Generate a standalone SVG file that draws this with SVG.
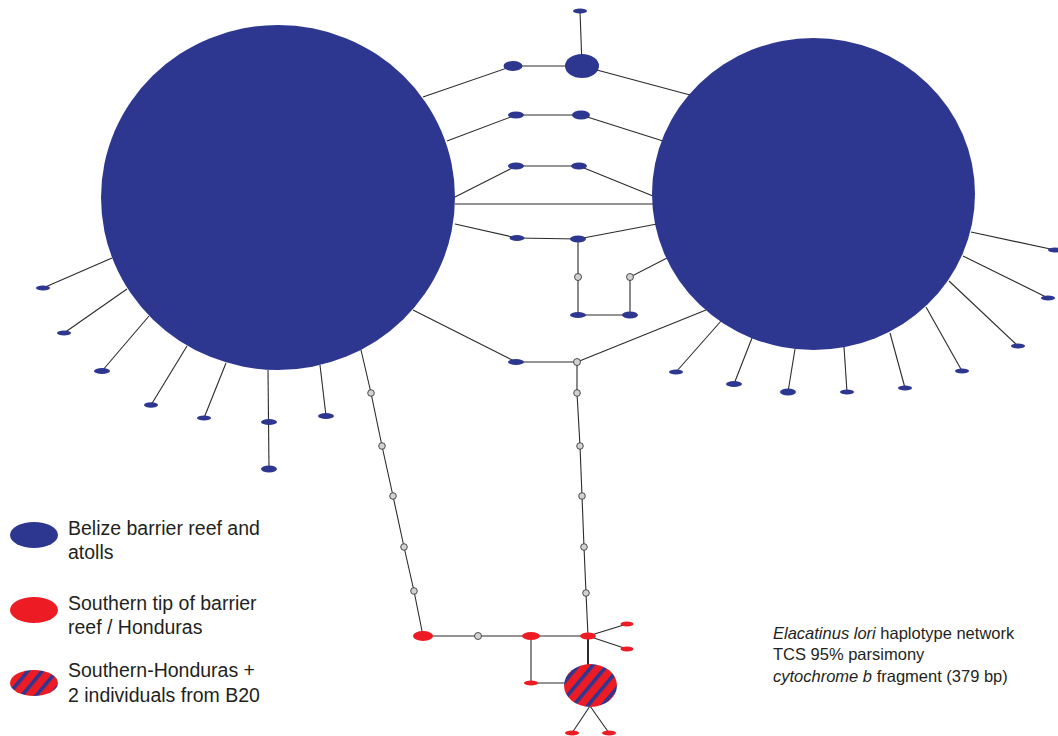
<svg xmlns="http://www.w3.org/2000/svg" width="1058" height="736" viewBox="0 0 1058 736">
<defs>
<style>
.b{fill:#2E3790}
.r{fill:#ED1C24}
.g{fill:#D1D2D4;stroke:#3a3a3a;stroke-width:0.9}
.ln line,.ln polyline{stroke:#2b2b2b;stroke-width:1.1;fill:none}
.t{font-family:"Liberation Sans",Arial,sans-serif;fill:#231F20}
</style>
<pattern id="stripes" patternUnits="userSpaceOnUse" width="11" height="11" patternTransform="rotate(40)">
<rect width="11" height="11" fill="#ED1C24"/>
<rect x="0" y="0" width="3.6" height="11" fill="#2E3790"/>
</pattern>
</defs>
<rect width="1058" height="736" fill="#fff"/>
<g id="connectors" class="ln">
<line x1="580" y1="11" x2="582" y2="66"/>
<line x1="423" y1="97" x2="513" y2="66"/>
<line x1="513" y1="66" x2="582" y2="66"/>
<line x1="582" y1="66" x2="690" y2="95"/>
<line x1="447" y1="141" x2="516" y2="115"/>
<line x1="516" y1="115" x2="581" y2="115"/>
<line x1="581" y1="115" x2="663" y2="141"/>
<line x1="455" y1="197" x2="516" y2="166"/>
<line x1="516" y1="166" x2="579" y2="166"/>
<line x1="579" y1="166" x2="653" y2="196"/>
<line x1="455" y1="204" x2="653" y2="204"/>
<line x1="455" y1="224" x2="517" y2="238"/>
<line x1="517" y1="238" x2="578" y2="239"/>
<line x1="578" y1="239" x2="657" y2="224"/>
<polyline points="578,239 578,315 630,315 630,277 667,258"/>
<line x1="413" y1="310" x2="516" y2="362"/>
<line x1="516" y1="362" x2="577" y2="362"/>
<line x1="577" y1="362" x2="706" y2="310"/>
<polyline points="361,350 371,393 382,446 393,496 404,547 414,591 423,636"/>
<polyline points="577,362 577,393 580,446 582,496 584,547 586,593 588,636"/>
<line x1="423" y1="636" x2="588" y2="636"/>
<line x1="588" y1="636" x2="627" y2="624"/>
<line x1="588" y1="636" x2="627" y2="649"/>
<polyline points="531,636 531,683 566,683"/>
<line x1="588" y1="636" x2="588" y2="665" style="stroke-width:2"/>
<line x1="590" y1="706" x2="572" y2="733"/>
<line x1="590" y1="706" x2="609" y2="733"/>
<line x1="112" y1="258" x2="43" y2="288"/>
<line x1="127" y1="289" x2="64" y2="333"/>
<line x1="149" y1="316" x2="102" y2="371"/>
<line x1="187" y1="346" x2="151" y2="405"/>
<line x1="226" y1="363" x2="204" y2="418"/>
<line x1="268" y1="370" x2="269" y2="469"/>
<line x1="320" y1="365" x2="326" y2="416"/>
<line x1="971" y1="232" x2="1055" y2="250"/>
<line x1="963" y1="256" x2="1048" y2="298"/>
<line x1="949" y1="281" x2="1018" y2="346"/>
<line x1="926" y1="307" x2="962" y2="371"/>
<line x1="890" y1="333" x2="905" y2="388"/>
<line x1="844" y1="347" x2="847" y2="392"/>
<line x1="795" y1="349" x2="788" y2="392"/>
<line x1="752" y1="338" x2="734" y2="384"/>
<line x1="721" y1="321" x2="676" y2="372"/>
</g>
<g id="hub-left"><ellipse class="b" cx="278" cy="197.5" rx="177" ry="172.5"/></g>
<g id="hub-right"><ellipse class="b" cx="813.5" cy="194" rx="161.5" ry="156"/></g>
<g id="top-nodes">
<g id="n-top1"><ellipse class="b" cx="580" cy="11" rx="7" ry="2.5"/></g>
<g id="n-top2"><ellipse class="b" cx="582" cy="66" rx="17" ry="12"/></g>
<g id="n-top3"><ellipse class="b" cx="513" cy="66" rx="9.5" ry="5"/></g>
<g id="n-r2a"><ellipse class="b" cx="516" cy="115" rx="8" ry="3.5"/></g>
<g id="n-r2b"><ellipse class="b" cx="581" cy="115" rx="9" ry="4.5"/></g>
<g id="n-r3a"><ellipse class="b" cx="516" cy="166" rx="8" ry="3.5"/></g>
<g id="n-r3b"><ellipse class="b" cx="579" cy="166" rx="8" ry="3.5"/></g>
<g id="n-r5a"><ellipse class="b" cx="517" cy="238" rx="7.5" ry="3"/></g>
<g id="n-r5b"><ellipse class="b" cx="578" cy="239" rx="8" ry="3.5"/></g>
<g id="n-g1"><circle class="g" cx="578" cy="277" r="3.5"/></g>
<g id="n-g2"><circle class="g" cx="630" cy="277" r="3.5"/></g>
<g id="n-sqa"><ellipse class="b" cx="578" cy="315" rx="8" ry="3"/></g>
<g id="n-sqb"><ellipse class="b" cx="630" cy="315" rx="8" ry="3.5"/></g>
<g id="n-r6a"><ellipse class="b" cx="516" cy="362" rx="8" ry="3"/></g>
<g id="n-r6g"><circle class="g" cx="577" cy="362" r="3.5"/></g>
</g>
<g id="chain-left">
<circle class="g" cx="371" cy="393" r="3.3"/>
<circle class="g" cx="382" cy="446" r="3.3"/>
<circle class="g" cx="393" cy="496" r="3.3"/>
<circle class="g" cx="404" cy="547" r="3.3"/>
<circle class="g" cx="414" cy="591" r="3.3"/>
</g>
<g id="chain-right">
<circle class="g" cx="577" cy="393" r="3.3"/>
<circle class="g" cx="580" cy="446" r="3.3"/>
<circle class="g" cx="582" cy="496" r="3.3"/>
<circle class="g" cx="584" cy="547" r="3.3"/>
<circle class="g" cx="586" cy="593" r="3.3"/>
</g>
<g id="red-nodes">
<g id="n-red1"><ellipse class="r" cx="423" cy="636" rx="10" ry="5"/></g>
<g id="n-redg"><circle class="g" cx="478" cy="636" r="3.5"/></g>
<g id="n-red2"><ellipse class="r" cx="531" cy="636" rx="9" ry="4"/></g>
<g id="n-red3"><ellipse class="r" cx="588" cy="636" rx="8" ry="3.5"/></g>
<g id="n-red4"><ellipse class="r" cx="627" cy="624" rx="6.5" ry="2.5"/></g>
<g id="n-red5"><ellipse class="r" cx="627" cy="649" rx="6.5" ry="2.5"/></g>
<g id="n-red6"><ellipse class="r" cx="531" cy="683" rx="7" ry="2.5"/></g>
<g id="n-mixed"><ellipse fill="url(#stripes)" cx="590.5" cy="685.5" rx="26.5" ry="21.5"/></g>
<g id="n-red7"><ellipse class="r" cx="572" cy="733" rx="7" ry="2.5"/></g>
<g id="n-red8"><ellipse class="r" cx="609" cy="733" rx="7" ry="2.5"/></g>
</g>
<g id="left-satellites">
<ellipse class="b" cx="43" cy="288" rx="7" ry="2.5"/>
<ellipse class="b" cx="64" cy="333" rx="7" ry="2.5"/>
<ellipse class="b" cx="102" cy="371" rx="8" ry="3"/>
<ellipse class="b" cx="151" cy="405" rx="7" ry="2.8"/>
<ellipse class="b" cx="204" cy="418" rx="7" ry="2.5"/>
<ellipse class="b" cx="269" cy="422" rx="8" ry="3"/>
<ellipse class="b" cx="269" cy="469" rx="8" ry="3.5"/>
<ellipse class="b" cx="326" cy="416" rx="8" ry="3"/>
</g>
<g id="right-satellites">
<ellipse class="b" cx="1055" cy="250" rx="7" ry="2.5"/>
<ellipse class="b" cx="1048" cy="298" rx="7" ry="2.5"/>
<ellipse class="b" cx="1018" cy="346" rx="7" ry="2.5"/>
<ellipse class="b" cx="962" cy="371" rx="7" ry="2.5"/>
<ellipse class="b" cx="905" cy="388" rx="7" ry="2.5"/>
<ellipse class="b" cx="847" cy="392" rx="7" ry="2.5"/>
<ellipse class="b" cx="788" cy="392" rx="8" ry="3.5"/>
<ellipse class="b" cx="734" cy="384" rx="8" ry="3"/>
<ellipse class="b" cx="676" cy="372" rx="7" ry="2.5"/>
</g>
<g id="legend">
<ellipse class="b" cx="34" cy="535" rx="24" ry="13"/>
<text class="t" x="68" y="535" font-size="19.5">Belize barrier reef and</text>
<text class="t" x="68" y="559" font-size="19.5">atolls</text>
<ellipse class="r" cx="34" cy="610" rx="24" ry="13"/>
<text class="t" x="68" y="610" font-size="19.5">Southern tip of barrier</text>
<text class="t" x="68" y="634" font-size="19.5">reef / Honduras</text>
<ellipse fill="url(#stripes)" cx="34" cy="683" rx="24" ry="13"/>
<text class="t" x="68" y="677" font-size="19.5">Southern-Honduras +</text>
<text class="t" x="68" y="702" font-size="19.5">2 individuals from B20</text>
</g>
<g id="caption">
<text class="t" x="773" y="639" font-size="16.5"><tspan font-style="italic">Elacatinus lori</tspan> haplotype network</text>
<text class="t" x="773" y="660" font-size="16.5">TCS 95% parsimony</text>
<text class="t" x="773" y="682" font-size="16.5"><tspan font-style="italic">cytochrome b</tspan> fragment (379 bp)</text>
</g>
</svg>
